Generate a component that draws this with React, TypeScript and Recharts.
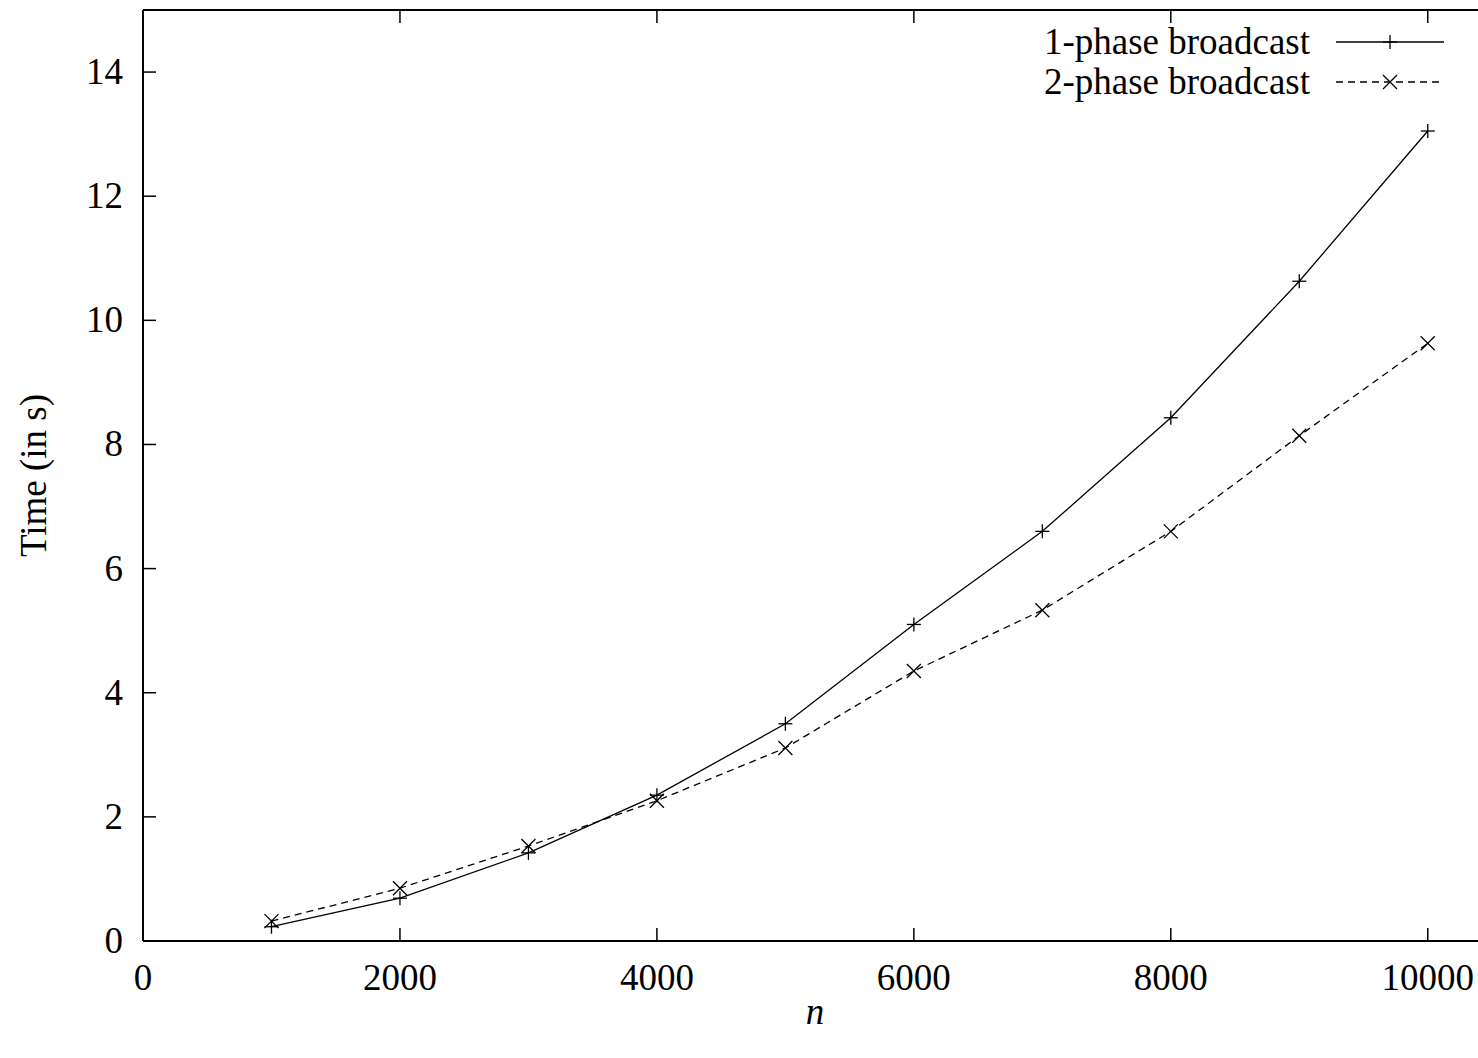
import { LineChart, Line, XAxis, YAxis } from "recharts";

const ns = [1000, 2000, 3000, 4000, 5000, 6000, 7000, 8000, 9000, 10000];
const onePhase = [0.23, 0.69, 1.42, 2.35, 3.5, 5.1, 6.6, 8.43, 10.63, 13.05];
const twoPhase = [0.32, 0.85, 1.53, 2.26, 3.11, 4.35, 5.33, 6.6, 8.14, 9.63];
const seriesNames = ["1-phase broadcast", "2-phase broadcast"];
const xTicks = [0, 2000, 4000, 6000, 8000, 10000];
const yTicks = [0, 2, 4, 6, 8, 10, 12, 14];

const data = ns.map((n, i) => ({ n, p1: onePhase[i], p2: twoPhase[i] }));

const FONT = "'Liberation Serif', 'Times New Roman', serif";
const FS = 37;
const TICK = 13;

const BottomTick = (props: any) => {
  const { x, y, payload } = props;
  return (
    <g>
      <line x1={x} y1={y} x2={x} y2={y - TICK} stroke="#000" strokeWidth={1.5} />
      <text x={x} y={y + 49} textAnchor="middle" fontFamily={FONT} fontSize={FS} fill="#000">
        {payload.value}
      </text>
    </g>
  );
};

const TopTick = (props: any) => {
  const { x, y } = props;
  return <line x1={x} y1={y} x2={x} y2={y + TICK} stroke="#000" strokeWidth={1.5} />;
};

const LeftTick = (props: any) => {
  const { x, y, payload } = props;
  return (
    <g>
      <line x1={x} y1={y} x2={x + TICK} y2={y} stroke="#000" strokeWidth={1.5} />
      <text x={x - 20} y={y + 12} textAnchor="end" fontFamily={FONT} fontSize={FS} fill="#000">
        {payload.value}
      </text>
    </g>
  );
};

const RightTick = (props: any) => {
  const { x, y } = props;
  return <line x1={x} y1={y} x2={x - TICK} y2={y} stroke="#000" strokeWidth={1.5} />;
};

const PlusDot = (props: any) => {
  const { cx, cy } = props;
  if (cx == null || cy == null) return null;
  return (
    <g>
      <line x1={cx - 7} y1={cy} x2={cx + 7} y2={cy} stroke="#000" strokeWidth={1.3} />
      <line x1={cx} y1={cy - 7} x2={cx} y2={cy + 7} stroke="#000" strokeWidth={1.3} />
    </g>
  );
};

const CrossDot = (props: any) => {
  const { cx, cy } = props;
  if (cx == null || cy == null) return null;
  return (
    <g>
      <line x1={cx - 7} y1={cy - 7} x2={cx + 7} y2={cy + 7} stroke="#000" strokeWidth={1.3} />
      <line x1={cx - 7} y1={cy + 7} x2={cx + 7} y2={cy - 7} stroke="#000" strokeWidth={1.3} />
    </g>
  );
};

// gnuplot-style key, top right inside the frame
const KeyBox = () => (
  <svg width={480} height={110} style={{ position: "absolute", left: 980, top: 0 }}>
    {seriesNames.map((name, i) => {
      const cy = 42 + i * 40;
      return (
        <g key={name}>
          <text x={330} y={cy + 12} textAnchor="end" fontFamily={FONT} fontSize={FS} fill="#000">
            {name}
          </text>
          <line
            x1={356}
            y1={cy}
            x2={464}
            y2={cy}
            stroke="#000"
            strokeWidth={1.3}
            strokeDasharray={i === 1 ? "7 5" : undefined}
          />
          {i === 0 ? <PlusDot cx={410} cy={cy} /> : <CrossDot cx={410} cy={cy} />}
        </g>
      );
    })}
  </svg>
);

export default function App() {
  return (
    <div
      style={{
        position: "fixed",
        left: 0,
        top: 0,
        width: 1478,
        height: 1058,
        overflow: "hidden",
        background: "#fff",
      }}
    >
      <LineChart
        width={1500}
        height={1058}
        data={data}
        margin={{ top: 9, right: 7, left: 63, bottom: 57 }}
      >
        <XAxis
          dataKey="n"
          type="number"
          domain={[0, 10500]}
          ticks={xTicks}
          height={60}
          tickSize={0}
          tickMargin={0}
          tick={<BottomTick />}
          axisLine={{ stroke: "#000", strokeWidth: 2 }}
          tickLine={false}
          interval={0}
        />
        <XAxis
          xAxisId="top"
          orientation="top"
          dataKey="n"
          type="number"
          domain={[0, 10500]}
          ticks={xTicks.slice(1)}
          height={1}
          tickSize={0}
          tickMargin={0}
          tick={<TopTick />}
          axisLine={{ stroke: "#000", strokeWidth: 2 }}
          tickLine={false}
          interval={0}
        />
        <YAxis
          type="number"
          domain={[0, 15]}
          ticks={yTicks}
          width={80}
          tickSize={0}
          tickMargin={0}
          tick={<LeftTick />}
          axisLine={{ stroke: "#000", strokeWidth: 2 }}
          tickLine={false}
          interval={0}
          label={{
            value: "Time (in s)",
            angle: -90,
            position: "insideLeft",
            offset: 0,
            style: { fontFamily: FONT, fontSize: FS, fill: "#000", textAnchor: "middle" },
            dx: -30,
          }}
        />
        <YAxis
          yAxisId="right"
          orientation="right"
          type="number"
          domain={[0, 15]}
          ticks={yTicks}
          width={1}
          tickSize={0}
          tickMargin={0}
          tick={<RightTick />}
          axisLine={{ stroke: "#000", strokeWidth: 2 }}
          tickLine={false}
          interval={0}
        />
        <Line
          name={seriesNames[0]}
          type="linear"
          dataKey="p1"
          stroke="#000"
          strokeWidth={1.3}
          dot={<PlusDot />}
          activeDot={false}
          isAnimationActive={false}
        />
        <Line
          name={seriesNames[1]}
          type="linear"
          dataKey="p2"
          stroke="#000"
          strokeWidth={1.3}
          strokeDasharray="7 5"
          dot={<CrossDot />}
          activeDot={false}
          isAnimationActive={false}
        />
      </LineChart>
      <KeyBox />
      <div
        style={{
          position: "absolute",
          left: 0,
          top: 990,
          width: 1630,
          textAlign: "center",
          fontFamily: FONT,
          fontStyle: "italic",
          fontSize: FS,
          color: "#000",
        }}
      >
        n
      </div>
    </div>
  );
}
